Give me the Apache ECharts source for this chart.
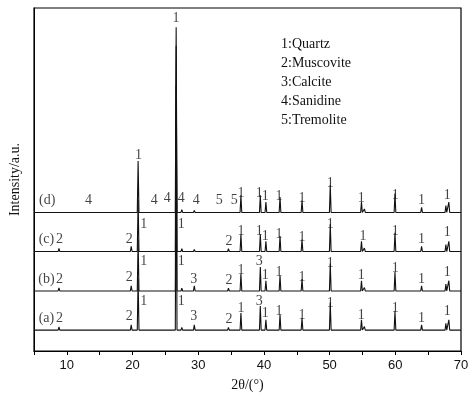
<!DOCTYPE html>
<html><head><meta charset="utf-8">
<script src="https://cdn.jsdelivr.net/npm/echarts@6/dist/echarts.min.js"></script>
<style>html,body{margin:0;background:#fff}#c{width:474px;height:401px}</style>
</head><body><div id="c"></div>
<script>
// peak positions (2θ) and heights above baseline for each pattern
const peakPos   = [8.8, 19.8, 20.85, 26.64, 27.5, 29.4, 34.6, 36.5, 39.45, 40.3, 42.45, 45.8, 50.1, 54.85, 55.3, 59.95, 64.0, 67.7, 68.15];
const heightsA  = [0.9, 1.5, 15, 60, 0.8, 1.5, 0.8, 5, 7, 3, 4.5, 3.5, 8, 3, 1, 5.5, 1.5, 2, 3];
const heightsB  = [0.9, 1.5, 15, 60, 0.8, 1.5, 0.8, 5, 7, 3, 4.5, 3.5, 8, 3, 1, 5.5, 1.5, 2, 3];
const heightsC  = [0.9, 1.5, 15, 60, 0.8, 0.6, 0.8, 5, 5, 3, 4.5, 3.5, 8, 3, 1, 5.5, 1.5, 2, 3];
const heightsD  = [0.2, 0.5, 15, 54, 0.8, 0.6, 0.5, 5, 5, 3, 4.5, 3.5, 8, 3, 1, 5.5, 1.5, 2, 3];
const baselines = [6.1, 17.5, 29, 40.4];
const xStart = 5, xEnd = 70;
// annotation labels: [x, y, text]
const labelsD = [[7.0,44,'(d)'],[13.3,44,'4'],[20.9,57,'1'],[23.3,44,'4'],[25.3,44.5,'4'],[27.4,44.5,'4'],[29.7,44,'4'],[33.2,44,'5'],[35.5,44,'5'],[26.6,97,'1'],
  [36.5,46,'1'],[39.3,46,'1'],[40.2,45,'1'],[42.3,45,'1'],[45.8,44.5,'1'],[50.1,49,'1'],[54.8,44.5,'1'],[60,45.5,'1'],[64,44,'1'],[67.9,45.5,'1']];
const labelsC = [[6.9,32.5,'(c)'],[8.9,32.5,'2'],[19.5,32.5,'2'],[21.7,37,'1'],[27.4,37,'1'],[34.7,32,'2'],
  [36.5,35,'1'],[39.3,35,'1'],[40.2,33.5,'1'],[42.3,34,'1'],[45.8,33,'1'],[50.1,37,'1'],[55.1,33.5,'1'],[60,35,'1'],[64,32.5,'1'],[67.9,34.5,'1']];
const labelsB = [[6.9,21,'(b)'],[8.9,21,'2'],[19.5,21.5,'2'],[21.7,26,'1'],[27.4,26,'1'],[29.3,21,'3'],[34.7,20.5,'2'],
  [36.5,23.5,'1'],[39.3,26,'3'],[40.2,22,'1'],[42.3,23,'1'],[45.8,21.5,'1'],[50.1,25.5,'1'],[54.8,22,'1'],[60,24,'1'],[64,21,'1'],[67.9,23,'1']];
const labelsA = [[6.9,9.6,'(a)'],[8.9,9.6,'2'],[19.5,10,'2'],[21.7,14.5,'1'],[27.4,14.5,'1'],[29.3,10,'3'],[34.7,9.3,'2'],
  [36.5,12.5,'1'],[39.3,14.6,'3'],[40.2,11,'1'],[42.3,11.5,'1'],[45.8,10.5,'1'],[50.1,14,'1'],[54.8,10.5,'1'],[60,12.5,'1'],[64,9.6,'1'],[67.9,11.5,'1']];
const legendLines = ['1:Quartz','2:Muscovite','3:Calcite','4:Sanidine','5:Tremolite'];

function build(heights, base){
  const pts=[[xStart,base]];
  const w=0.13;
  peakPos.forEach((p,i)=>{pts.push([p-w,base]);pts.push([p,base+heights[i]]);pts.push([p+w,base]);});
  pts.push([xEnd,base]);
  return pts;
}
const allHeights=[heightsA,heightsB,heightsC,heightsD];
const series=[];
allHeights.forEach((h,i)=>series.push({type:'line',data:build(h,baselines[i]),showSymbol:false,symbol:'none',
  lineStyle:{color:'#111',width:1.1},z:2+i,animation:false}));
[labelsA,labelsB,labelsC,labelsD].forEach(L=>series.push({type:'scatter',symbolSize:0,animation:false,z:10,
  data:L.map(d=>({value:[d[0],d[1]],name:d[2]})),
  label:{show:true,position:'inside',formatter:p=>p.name,color:'#111',fontFamily:'Liberation Serif',fontSize:14}}));
const chart=echarts.init(document.getElementById('c'));
chart.setOption({
  animation:false,
  grid:{left:32,right:13,top:8,bottom:50,show:true,borderColor:'#000',borderWidth:1.2},
  xAxis:{type:'value',min:5,max:70,interval:5,name:'2θ/(°)',nameLocation:'middle',nameGap:27,
    nameTextStyle:{fontFamily:'Liberation Serif',fontSize:14,color:'#111'},
    axisLine:{lineStyle:{color:'#000',width:1.2}},axisTick:{length:4,lineStyle:{color:'#000'}},
    axisLabel:{formatter:v=>v%10===0?String(v):'',fontFamily:'Liberation Sans',fontSize:13,color:'#111'},splitLine:{show:false}},
  yAxis:{type:'value',min:0,max:100,name:'Intensity/a.u.',nameLocation:'middle',nameGap:12,
    nameTextStyle:{fontFamily:'Liberation Serif',fontSize:14,color:'#111'},
    axisLine:{show:true,lineStyle:{color:'#000'}},axisTick:{show:false},axisLabel:{show:false},splitLine:{show:false}},
  graphic:legendLines.map((t,i)=>({type:'text',left:281,top:37+i*19,style:{text:t,font:'14px "Liberation Serif"',fill:'#111'}})),
  series
});
</script></body></html>
